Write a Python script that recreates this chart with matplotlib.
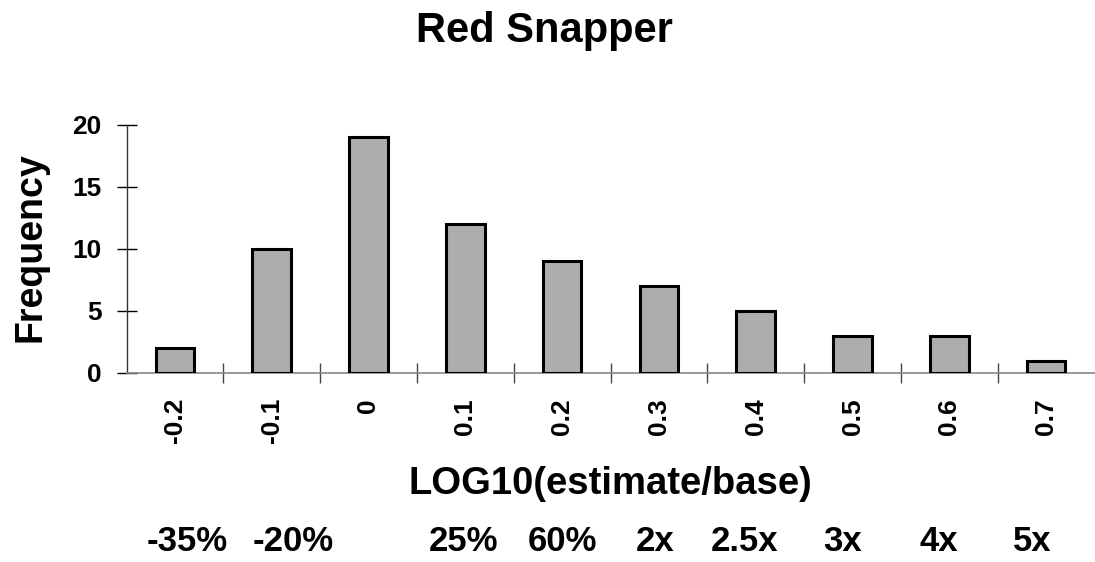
import numpy as np
import matplotlib
matplotlib.use('Agg')
import matplotlib.pyplot as plt

# data
bins = ['-0.2', '-0.1', '0', '0.1', '0.2', '0.3', '0.4', '0.5', '0.6', '0.7']
freq = [2, 10, 19, 12, 9, 7, 5, 3, 3, 1]
ratio_labels = ['-35%', '-20%', '25%', '60%', '2x', '2.5x', '3x', '4x', '5x']
ratio_px = [187, 293, 463, 562, 655, 745, 843, 939, 1032]   # x centre in pixels

plt.rcParams['font.family'] = ['Liberation Sans', 'DejaVu Sans']
plt.rcParams['font.weight'] = 'bold'

W, H = 1095, 562
fig = plt.figure(figsize=(W / 100, H / 100), dpi=100)
ax = fig.add_axes([126.5 / W, 1 - 373 / H, (1094.5 - 126.5) / W, (373 - 125) / H])

x = np.arange(len(bins))
ax.bar(x, freq, width=0.4, color='#adadad', edgecolor='black', linewidth=2.2, zorder=3)

ax.set_xlim(-0.5, len(bins) - 0.5)
ax.set_ylim(0, 20)
ax.set_yticks([0, 5, 10, 15, 20])

# category labels at centres, tick marks at the boundaries
ax.set_xticks(x)
ax.set_xticklabels(bins, rotation=90, fontsize=19, fontweight='bold')
ax.set_xticks(np.arange(0.5, len(bins) - 0.5, 1), minor=True)
ax.tick_params(axis='x', which='major', length=0, pad=18)
ax.tick_params(axis='x', which='minor', direction='inout', length=14, width=1, color='#444')
ax.tick_params(axis='y', direction='inout', length=14, width=1, labelsize=19, pad=11)
for lab in ax.get_yticklabels():
    lab.set_fontweight('bold')

for s in ['top', 'right']:
    ax.spines[s].set_visible(False)
ax.spines['left'].set_color('#333333')
ax.spines['bottom'].set_color('#888888')
ax.spines['left'].set_linewidth(1)
ax.spines['bottom'].set_linewidth(1.2)

fig.text(544 / W, 1 - 42 / H, 'Red Snapper', ha='center', va='baseline', fontsize=30, fontweight='bold')
fig.text(31 / W, 1 - 247 / H, 'Frequency', ha='center', va='center', rotation=90, fontsize=27, fontweight='bold')
fig.text(610 / W, 1 - 494 / H, 'LOG10(estimate/base)', ha='center', va='baseline', fontsize=27.5, fontweight='bold')
for lab, px in zip(ratio_labels, ratio_px):
    fig.text(px / W, 1 - 551 / H, lab, ha='center', va='baseline', fontsize=25, fontweight='bold')

fig.savefig('out.png', dpi=100)
